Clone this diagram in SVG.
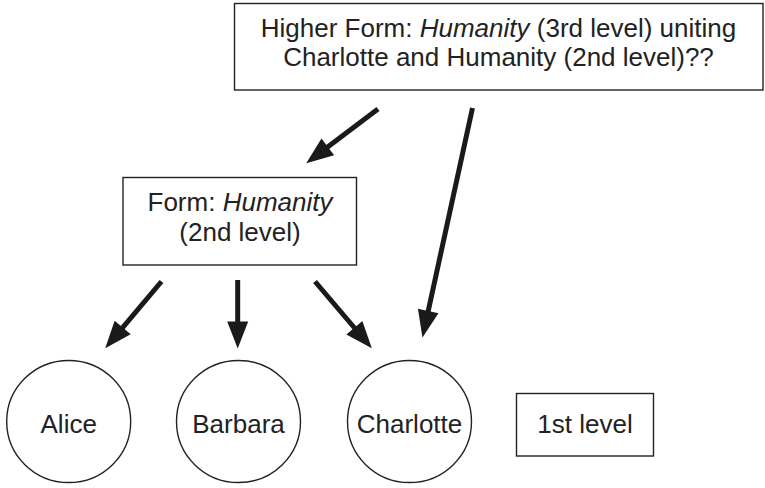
<svg xmlns="http://www.w3.org/2000/svg" width="765" height="488" viewBox="0 0 765 488">
<style>
.box{fill:#fff;stroke:#222;stroke-width:1.4}
.t{font-family:"Liberation Sans",Arial,Helvetica,sans-serif;font-size:26px;fill:#222;text-anchor:middle}
.i{font-style:italic}
.c{stroke:#1a1a1a;stroke-width:5;fill:none;marker-end:url(#ah)}
</style>
<defs>
<marker id="ah" markerUnits="userSpaceOnUse" markerWidth="30" markerHeight="24" viewBox="0 -12 28 24" refX="1" refY="0" orient="auto">
<path d="M0,-10.5 L27,0 L0,10.5 z" fill="#1a1a1a"/>
</marker>
</defs>
<rect width="765" height="488" fill="#fff"/>
<g id="connectors">
<line class="c" x1="378" y1="109" x2="327" y2="147.5"/>
<line class="c" x1="472.5" y1="108" x2="428" y2="312"/>
<line class="c" x1="161.5" y1="281.5" x2="122" y2="328.3"/>
<line class="c" x1="237.7" y1="280" x2="237.7" y2="322.5"/>
<line class="c" x1="315" y1="281.5" x2="355" y2="328.5"/>
</g>
<g id="higher-form">
<rect class="box" x="234.5" y="3.5" width="528.5" height="86.5"/>
<text class="t" x="498.5" y="37">Higher Form: <tspan class="i">Humanity</tspan> (3rd level) uniting</text>
<text class="t" x="498.5" y="66">Charlotte and Humanity (2nd level)??</text>
</g>
<g id="form">
<rect class="box" x="123" y="177.5" width="233.5" height="87.5"/>
<text class="t" x="240" y="211">Form: <tspan class="i">Humanity</tspan></text>
<text class="t" x="240" y="241">(2nd level)</text>
</g>
<g id="alice">
<ellipse class="box" cx="68.7" cy="421.5" rx="62" ry="61"/>
<text class="t" x="68.7" y="433">Alice</text>
</g>
<g id="barbara">
<ellipse class="box" cx="238.5" cy="421.5" rx="62" ry="61"/>
<text class="t" x="238.5" y="433">Barbara</text>
</g>
<g id="charlotte">
<ellipse class="box" cx="409.5" cy="421.5" rx="62" ry="61"/>
<text class="t" x="409.5" y="433">Charlotte</text>
</g>
<g id="first-level">
<rect class="box" x="516.5" y="393.5" width="137" height="62.5"/>
<text class="t" x="585" y="432.5">1st level</text>
</g>
</svg>
